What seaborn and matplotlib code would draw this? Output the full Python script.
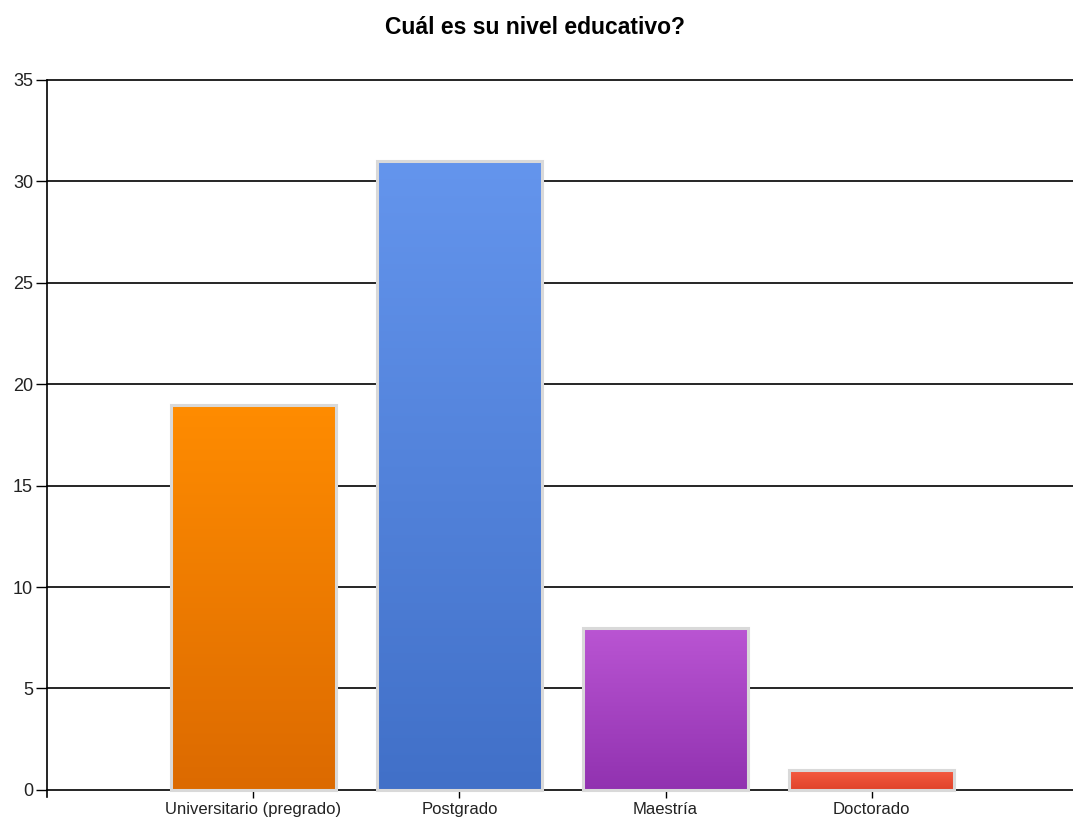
import numpy as np
import pandas as pd
import matplotlib
matplotlib.use("Agg")
import matplotlib.pyplot as plt
from matplotlib.colors import LinearSegmentedColormap
import seaborn as sns

# Datos
categorias = ["Universitario (pregrado)", "Postgrado", "Maestría", "Doctorado"]
valores = [19, 31, 8, 1]
colores_arriba = ["#FF8C00", "#6495ED", "#BA55D3", "#F65C42"]
colores_abajo = ["#DC6A00", "#4170C8", "#9132B0", "#E0432A"]

df = pd.DataFrame({"nivel": categorias, "n": valores})

sns.set_style("white")
plt.rcParams["font.family"] = ["Liberation Sans", "DejaVu Sans"]

fig = plt.figure(figsize=(10.73, 8.19), dpi=100)
ax = fig.add_axes([47 / 1073, 1 - 797 / 819, 1031 / 1073, (797 - 80) / 819])

sns.barplot(data=df, x="nivel", y="n", width=0.8, color="white",
            edgecolor="#D9D9D9", linewidth=2.2, ax=ax, zorder=3)

# Relleno en degradado para cada barra
grad = np.linspace(0, 1, 256).reshape(-1, 1)
for bar, c1, c2 in zip(ax.patches, colores_arriba, colores_abajo):
    x0, y0 = bar.get_x(), bar.get_y()
    w, h = bar.get_width(), bar.get_height()
    cmap = LinearSegmentedColormap.from_list("g", [c1, c2])
    im = ax.imshow(grad, extent=[x0, x0 + w, y0, y0 + h], aspect="auto",
                   cmap=cmap, origin="upper", zorder=3.5)
    im.set_clip_path(bar)
    bar.set_zorder(4)
    bar.set_facecolor("none")

ax.set_xlim(-1, 4.0)
ax.set_ylim(-0.35, 35)
ax.set_yticks(range(0, 36, 5))
for yv in range(5, 36, 5):
    ax.axhline(yv, color="black", linewidth=1.2, zorder=1, clip_on=False)

ax.spines["top"].set_visible(False)
ax.spines["right"].set_visible(False)
ax.spines["bottom"].set_position(("data", 0))
for s in ["left", "bottom"]:
    ax.spines[s].set_color("black")
    ax.spines[s].set_linewidth(1.2)

ax.tick_params(axis="y", direction="out", length=8, width=1, color="black",
               labelsize=13, labelcolor="#222222", left=True, pad=2)
ax.tick_params(axis="x", direction="out", length=6, width=1, color="black",
               labelsize=12, labelcolor="#222222", bottom=True, pad=3)
ax.set_xlabel("")
ax.set_ylabel("")

fig.text(535 / 1073, 1 - 27 / 819, "Cuál es su nivel educativo?",
         ha="center", va="center", fontsize=16.5, fontweight="bold",
         color="black")

fig.savefig("out.png", dpi=100)
